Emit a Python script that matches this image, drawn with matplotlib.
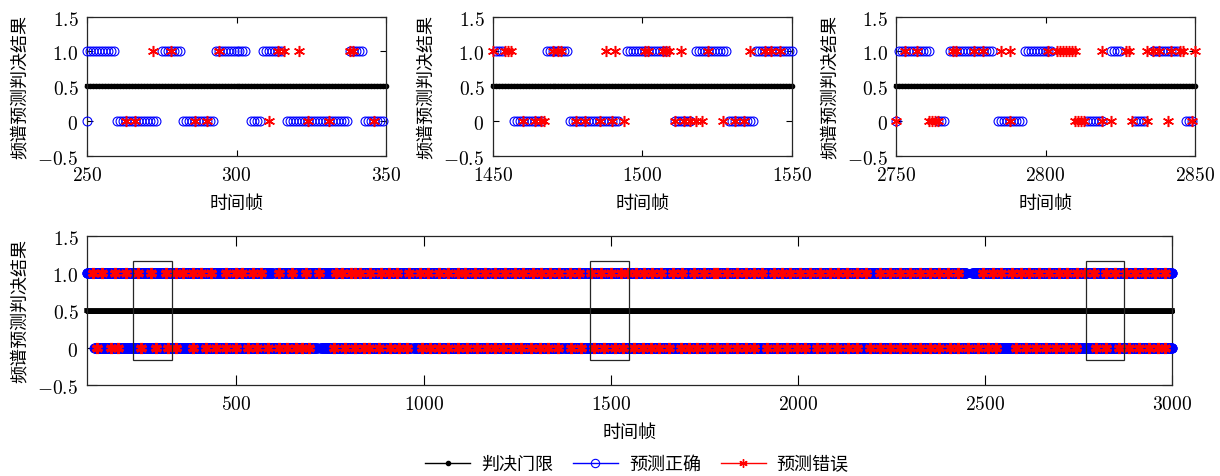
import matplotlib
matplotlib.use('Agg')
import matplotlib.pyplot as plt
import numpy as np
from matplotlib.patches import Rectangle
from matplotlib.lines import Line2D

# ---------------- data ----------------
threshold = 0.5
labels_legend = ['判决门限', '预测正确', '预测错误']
ytick_vals = [-0.5, 0, 0.5, 1.0, 1.5]
ytick_labels = [r'$-0.5$', r'$0$', r'$0.5$', r'$1.0$', r'$1.5$']

# panel 1 (frames 250-350)
p1_xlim = (250, 350)
p1_xticks = [250, 300, 350]
p1_one_runs = [(250, 259), (275, 281), (293, 303), (309, 315), (338, 342)]
p1_one_err = [272, 278, 294, 314, 316, 321, 338, 339]
p1_zero_runs = [(250, 250), (260, 273), (282, 292), (305, 308), (317, 337), (343, 349)]
p1_zero_err = [263, 266, 286, 290, 311, 324, 331, 346]

# panel 2 (frames 1450-1550)
p2_xlim = (1450, 1550)
p2_xticks = [1450, 1500, 1550]
p2_one_runs = [(1451, 1453), (1468, 1475), (1495, 1508), (1518, 1528), (1538, 1550)]
p2_one_err = [1450, 1454, 1455, 1456, 1470, 1472, 1473, 1488, 1491, 1501, 1502,
              1507, 1508, 1509, 1513, 1522, 1536, 1541, 1543, 1546]
p2_zero_runs = [(1457, 1466), (1476, 1492), (1511, 1516), (1529, 1537)]
p2_zero_err = [1460, 1464, 1466, 1467, 1478, 1481, 1486, 1490, 1494, 1511, 1514,
               1516, 1518, 1520, 1527, 1531, 1534]

# panel 3 (frames 2750-2850)
p3_xlim = (2750, 2850)
p3_xticks = [2750, 2800, 2850]
p3_one_runs = [(2751, 2761), (2768, 2782), (2793, 2802), (2822, 2825), (2836, 2844)]
p3_one_err = [2753, 2757, 2769, 2770, 2776, 2779, 2785, 2788, 2801, 2804, 2805, 2806,
              2807, 2808, 2809, 2810, 2819, 2827, 2828, 2834, 2836, 2838, 2842, 2845,
              2846, 2850]
p3_zero_runs = [(2750, 2750), (2764, 2766), (2784, 2792), (2814, 2819), (2830, 2833), (2847, 2849)]
p3_zero_err = [2750, 2761, 2762, 2763, 2764, 2788, 2810, 2811, 2812, 2813, 2819, 2822,
               2829, 2834, 2841, 2849]

# bottom panel (frames 100-3000)
b_xlim = (100, 3000)
b_xticks = [500, 1000, 1500, 2000, 2500, 3000]
b_one_runs = [(100, 597), (601, 601), (605, 1058), (1065, 1176), (1182, 2450), (2465, 3000)]
b_zero_runs = [(120, 715), (720, 720), (725, 965), (969, 969), (973, 1372), (1377, 2578), (2586, 3000)]
b_one_err = [118, 140, 175, 206, 237, 273, 313, 339, 357, 384, 406, 432, 472, 499, 516,
             543, 565, 614, 649, 685, 720, 765, 782, 805, 818,
             831, 858, 885, 907, 929, 960, 991, 1013, 1040, 1066, 1093, 1111, 1137, 1164,
             1190, 1217, 1244, 1266, 1292, 1314, 1337, 1363, 1390, 1416, 1447, 1474, 1501, 1527,
             1545, 1567, 1589, 1611, 1634, 1665, 1691, 1722, 1749, 1775, 1784, 1811, 1838,
             1860, 1882, 1904, 1935, 1957, 1979, 2006, 2033, 2059, 2086, 2108, 2130, 2157,
             2183, 2219, 2245,
             2272, 2299, 2325, 2352, 2378, 2400, 2427, 2494, 2520, 2542, 2573, 2596, 2618,
             2644, 2671, 2697, 2720, 2746, 2768, 2791, 2822, 2848, 2875, 2901, 2928, 2955, 2981]
b_zero_err = [127, 166, 184, 246, 286, 317, 339, 384, 419, 446, 472, 499, 530, 556, 583,
              614, 636, 658, 676, 694, 760, 791, 818,
              840, 853, 880, 911, 933, 955, 995, 1017, 1040, 1066, 1093, 1115, 1142, 1168,
              1190, 1213, 1239, 1261, 1288, 1310, 1332, 1359, 1394, 1421, 1456, 1483, 1510,
              1532, 1563, 1585, 1607, 1629, 1656, 1687, 1709, 1731, 1758, 1784, 1811, 1838,
              1860, 1882, 1917, 1944, 1971, 1997, 2019, 2050, 2077, 2104, 2135, 2157, 2192,
              2219, 2245,
              2272, 2299, 2325, 2352, 2378, 2405, 2427, 2454, 2480, 2507, 2529, 2582, 2609,
              2635, 2662, 2689, 2715, 2742, 2795, 2822, 2857, 2884, 2910, 2937, 2963, 2981]

# zoom boxes on bottom panel: (x0, x1, y0, y1)
boxes = [(225, 329, -0.17, 1.16), (1444, 1548, -0.17, 1.16), (2770, 2871, -0.17, 1.16)]

# ---------------- style ----------------
plt.rcParams['font.family'] = ['Noto Sans CJK SC', 'DejaVu Sans']
plt.rcParams['mathtext.fontset'] = 'cm'
plt.rcParams['axes.unicode_minus'] = True

STAR = (6, 2, 0)


def expand(runs):
    return np.concatenate([np.arange(a, b + 1) for a, b in runs])


def draw(ax, xlim, xticks, one_runs, one_err, zero_runs, zero_err, ticklen,
         thr_lw, thr_ms, star_ms, star_mew):
    frames = np.arange(xlim[0], xlim[1] + 1)
    ax.plot(frames, np.full(len(frames), threshold), color='k', lw=thr_lw,
            marker='.', ms=thr_ms, zorder=2, clip_on=False)
    x1 = expand(one_runs)
    x0 = expand(zero_runs)
    ax.plot(x1, np.ones(len(x1)), ls='none', marker='o', mfc='none', mec='blue',
            ms=6.4, mew=0.8, zorder=3, clip_on=False)
    ax.plot(x0, np.zeros(len(x0)), ls='none', marker='o', mfc='none', mec='blue',
            ms=6.4, mew=0.8, zorder=3, clip_on=False)
    ax.plot(one_err, np.ones(len(one_err)), ls='none', marker=STAR, color='red',
            ms=star_ms, mew=star_mew, zorder=4, clip_on=False)
    ax.plot(zero_err, np.zeros(len(zero_err)), ls='none', marker=STAR, color='red',
            ms=star_ms, mew=star_mew, zorder=4, clip_on=False)
    ax.set_xlim(*xlim)
    ax.set_ylim(-0.5, 1.5)
    ax.set_xticks(xticks)
    ax.set_xticklabels([r'$%d$' % t for t in xticks])
    ax.set_yticks(ytick_vals)
    ax.set_yticklabels(ytick_labels)
    ax.tick_params(direction='in', top=True, right=True, length=ticklen,
                   width=0.8, labelsize=14, pad=6)
    for s in ax.spines.values():
        s.set_linewidth(0.9)
        s.set_color('#262626')
    ax.set_xlabel('时间帧', fontsize=13, labelpad=6)
    ax.set_ylabel('频谱预测判决结果', fontsize=13, labelpad=6)


fig = plt.figure(figsize=(12.2, 4.77), dpi=100)
W, H = 1220.0, 477.0

top_b = 1 - 157 / H
top_h = (157 - 17.5) / H
ax1 = fig.add_axes([86.7 / W, top_b, 299.6 / W, top_h])
ax2 = fig.add_axes([492.7 / W, top_b, 299.0 / W, top_h])
ax3 = fig.add_axes([896.0 / W, top_b, 299.0 / W, top_h])
axb = fig.add_axes([86.7 / W, 1 - 386 / H, (1172.3 - 86.7) / W, (386 - 237) / H])

draw(ax1, p1_xlim, p1_xticks, p1_one_runs, p1_one_err, p1_zero_runs, p1_zero_err, 4,
     3.0, 6, 8, 1.1)
draw(ax2, p2_xlim, p2_xticks, p2_one_runs, p2_one_err, p2_zero_runs, p2_zero_err, 4,
     3.0, 6, 8, 1.1)
draw(ax3, p3_xlim, p3_xticks, p3_one_runs, p3_one_err, p3_zero_runs, p3_zero_err, 4,
     3.0, 6, 8, 1.1)
draw(axb, b_xlim, b_xticks, b_one_runs, b_one_err, b_zero_runs, b_zero_err, 7,
     3.5, 5, 8, 2.2)

for x0b, x1b, y0b, y1b in boxes:
    axb.add_patch(Rectangle((x0b, y0b), x1b - x0b, y1b - y0b, fill=False,
                            edgecolor='#262626', lw=0.9, zorder=5))

handles = [
    Line2D([], [], color='k', lw=1, marker='.', ms=6),
    Line2D([], [], color='blue', lw=1, marker='o', mfc='none', mec='blue', ms=6, mew=0.8),
    Line2D([], [], color='red', lw=1, marker=STAR, ms=6, mew=1.0),
]
fig.legend(handles, labels_legend, loc='center', bbox_to_anchor=(0.522, 0.025),
           ncol=3, frameon=False, fontsize=13, handlelength=2.5, columnspacing=1.1,
           handletextpad=0.6)

fig.savefig('out.png', dpi=100)
